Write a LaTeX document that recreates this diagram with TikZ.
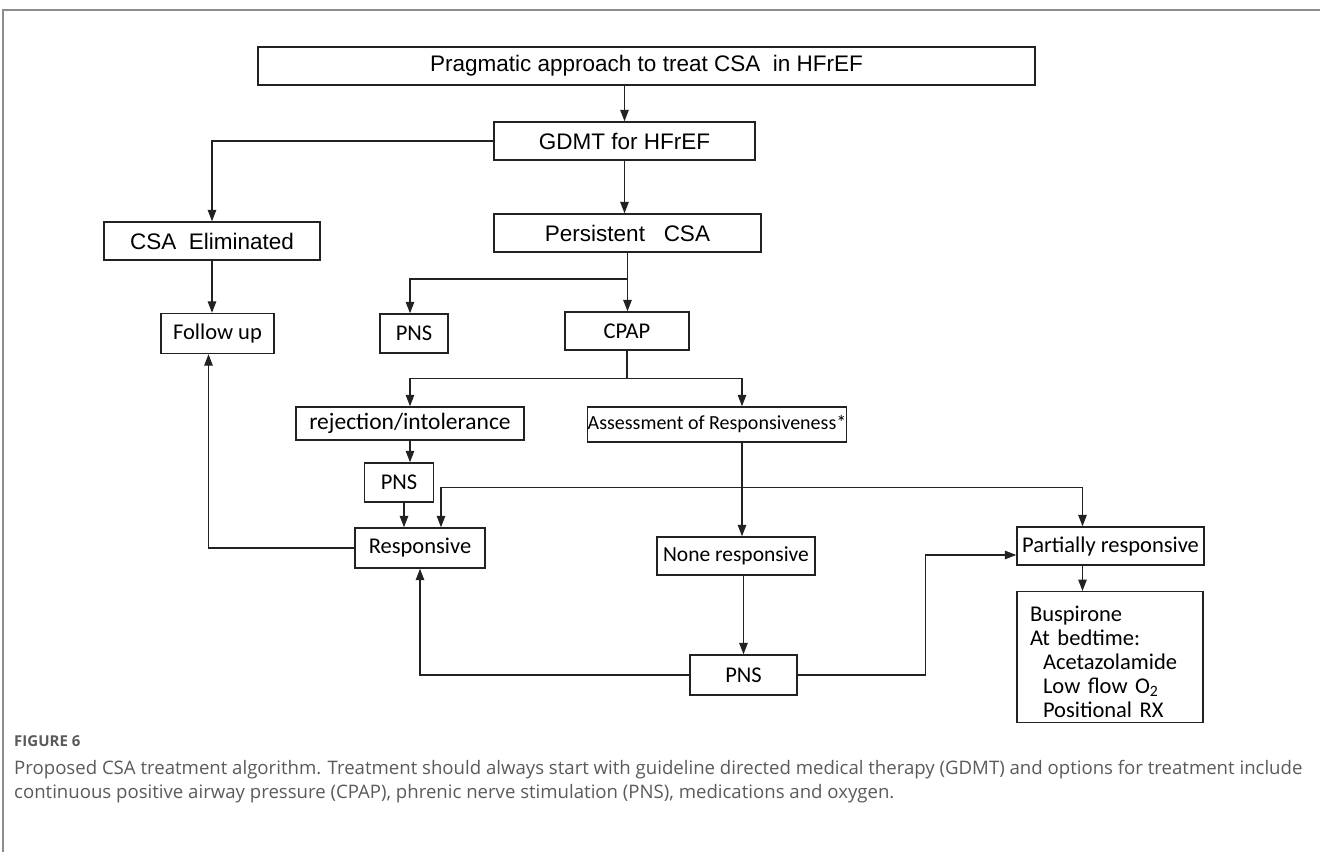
\documentclass[tikz,border=0pt]{standalone}
\usepackage{fontspec}
\setmainfont{Liberation Sans}
\newfontfamily\calib{Carlito}
\newfontfamily\capfont{Open Sans}
\usetikzlibrary{arrows.meta}
\definecolor{framegray}{HTML}{8C8C8C}
\definecolor{capgray}{HTML}{5A5A5A}
\definecolor{linec}{HTML}{222222}
\begin{document}
\begin{tikzpicture}[x=1pt,y=-1pt,
  bx/.style={draw=linec, line width=1.4pt, inner sep=0pt, minimum height=38pt},
  arialf/.style={font=\fontsize{22.5}{27}\selectfont},
  calf/.style={font=\calib\fontsize{22.5}{27}\selectfont},
  conn/.style={line width=1.3pt, draw=linec},
  tip/.tip={Triangle[length=11.5pt,width=8.5pt]},
  arr/.style={conn, -tip},
]
\useasboundingbox (0,0) rectangle (1320,852);
\draw[framegray, line width=2pt] (3,852) -- (3,10) -- (1320,10);

% nodes
\node[bx, arialf, minimum width=777pt] (top) at (646.5,66) {Pragmatic approach to treat CSA\ \ in HFrEF};
\node[bx, arialf, minimum width=261pt] (gdmt) at (624.5,141) {GDMT for HFrEF};
\node[bx, arialf, minimum width=216pt] (elim) at (212,241) {CSA\ \ Eliminated};
\node[bx, arialf, minimum width=267pt] (pers) at (627.5,233) {Persistent\ \ \ CSA};
\node[bx, calf, minimum width=113pt, minimum height=40pt] (follow) at (217.5,333.5) {Follow up};
\node[bx, calf, minimum width=68pt, minimum height=39pt] (pnsa) at (414,333.5) {PNS};
\node[bx, calf, minimum width=124pt] (cpap) at (627,331) {CPAP};
\node[bx, calf, minimum width=228pt, minimum height=33pt, font=\calib\fontsize{23.5}{27}\selectfont] (rej) at (410,423.5) {rejection/intolerance};
\node[bx, calf, minimum width=252pt, minimum height=35pt, font=\calib\fontsize{20}{24}\selectfont] (assess) at (717,424.5) {Assessment of Responsiveness*};
\node[bx, calf, minimum width=69pt, minimum height=39pt] (pnsb) at (399,482.5) {PNS};
\node[bx, calf, minimum width=130pt, minimum height=40pt] (resp) at (420,548) {Responsive};
\node[bx, calf, minimum width=158pt, font=\calib\fontsize{21.5}{26}\selectfont] (none) at (736,556) {None responsive};
\node[bx, calf, minimum width=187pt] (part) at (1110.5,546) {Partially responsive};
\node[bx, calf, minimum width=107pt, minimum height=40pt] (pnsc) at (743.5,675) {PNS};
\node[bx, anchor=north, minimum width=186pt, minimum height=131pt, align=left, text width=160pt,
      font=\calib\fontsize{22.5}{24}\selectfont] (med) at (1110,591)
      {\rule{0pt}{24pt}Buspirone\\At bedtime:\\\hspace*{13pt}Acetazolamide\\\hspace*{13pt}Low flow O\textsubscript{2}\\\hspace*{13pt}Positional RX};

% connectors
\draw[arr] (top.south -| gdmt.north) -- (gdmt.north);
\draw[arr] (gdmt.west) -| (elim.north);
\draw[arr] (elim.south) -- (elim.south |- follow.north);
\draw[arr] (gdmt.south) -- (gdmt.south |- pers.north);
\draw[arr] (pers.south) -- (pers.south |- cpap.north);
\draw[arr] (pers.south |- 0,279) -| ([xshift=-4pt]pnsa.north);
\draw[conn] (cpap.south) -- ++(0,28) coordinate (b2);
\draw[arr] (b2) -| (rej.north);
\draw[arr] (b2) -| ([xshift=25pt]assess.north);
\draw[arr] (rej.south) -- (rej.south |- pnsb.north);
\draw[arr] ([xshift=5pt]pnsb.south) -- ([xshift=5pt]pnsb.south |- resp.north);
\draw[conn, tip-tip] ([xshift=21pt]resp.north) -- ++(0,-40) -| ([xshift=-28pt]part.north);
\draw[arr] ([xshift=25pt]assess.south) -- ([xshift=25pt]assess.south |- none.north);
\draw[arr] (pnsc.north |- none.south) -- (pnsc.north);
\draw[arr] (pnsc.west) -| (resp.south);
\draw[arr] (pnsc.east) -- ++(128,0) |- ([yshift=-9pt]part.west);
\draw[arr] ([xshift=-28pt]part.south) -- ([xshift=-28pt]part.south |- med.north);
\draw[arr] (resp.west) -| ([xshift=-9pt]follow.south);

% caption
\node[anchor=west, text=capgray, inner sep=0pt, font=\capfont\bfseries\fontsize{15}{18}\selectfont] (fig) at (14,741) {FIGURE 6};
\node[anchor=north west, text=capgray, inner sep=0pt, align=left, font=\capfont\fontsize{18.6}{24.5}\selectfont] (cap) at (14,760)
  {Proposed CSA treatment algorithm. Treatment should always start with guideline directed medical therapy (GDMT) and options for treatment include\\
   continuous positive airway pressure (CPAP), phrenic nerve stimulation (PNS), medications and oxygen.};
\end{tikzpicture}
\end{document}
